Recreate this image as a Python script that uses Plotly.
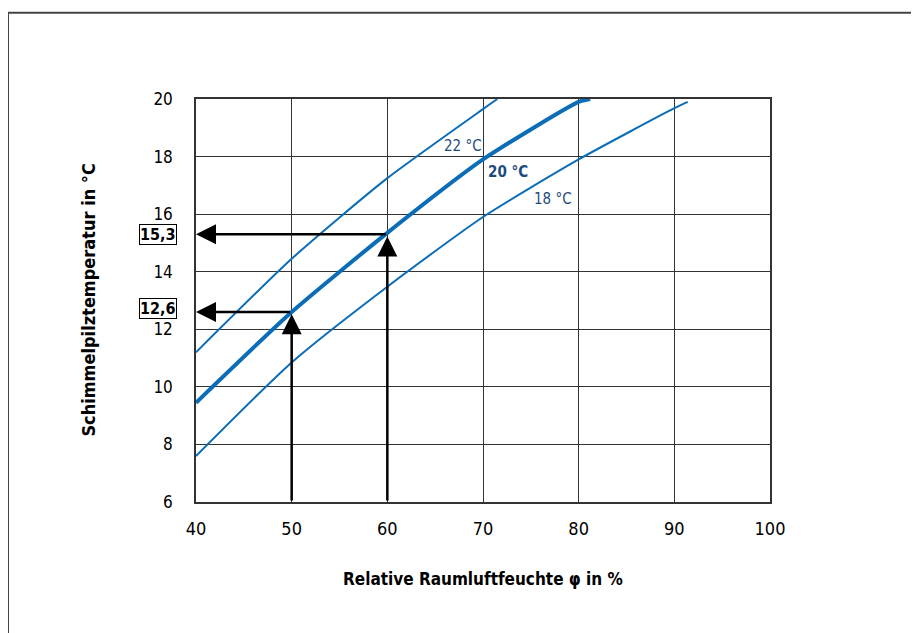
import plotly.graph_objects as go

# ---- data ----
rh_22 = [40, 50, 60, 70, 71.5]
t_22 = [11.2, 14.45, 17.25, 19.65, 20.0]

rh_20 = [40, 50, 60, 70, 80, 81.2]
t_20 = [9.45, 12.6, 15.35, 17.9, 19.9, 20.0]

rh_18 = [40, 50, 60, 70, 80, 90, 91.4]
t_18 = [7.6, 10.85, 13.48, 15.9, 17.9, 19.68, 19.9]

curve_labels = ["22 °C", "20 °C", "18 °C"]
label_rh = [67.9, 72.6, 77.3]
label_t = [18.37, 17.47, 16.53]

marked_rh = [50, 60]
marked_t = [12.6, 15.3]
marked_text = ["12,6", "15,3"]

x_ticks = [40, 50, 60, 70, 80, 90, 100]
y_ticks = [6, 8, 10, 12, 14, 16, 18, 20]

FONT = "DejaVu Sans Condensed, Liberation Sans Narrow, Arial Narrow, sans-serif"
LINE = "#0b6db7"
TXT = "#1d4a7c"

fig = go.Figure()
fig.add_trace(go.Scatter(x=rh_22, y=t_22, mode="lines", line=dict(color=LINE, width=2, shape="spline", smoothing=0.6), hoverinfo="skip"))
fig.add_trace(go.Scatter(x=rh_20, y=t_20, mode="lines", line=dict(color=LINE, width=4, shape="spline", smoothing=0.6), hoverinfo="skip"))
fig.add_trace(go.Scatter(x=rh_18, y=t_18, mode="lines", line=dict(color=LINE, width=2, shape="spline", smoothing=0.6), hoverinfo="skip"))

ann = []
for i, (txt, x, y) in enumerate(zip(curve_labels, label_rh, label_t)):
    ann.append(dict(x=x, y=y, xref="x", yref="y", text=("<b>%s</b>" % txt) if i == 1 else txt,
                    showarrow=False, font=dict(family=FONT, size=15, color=TXT)))

ymin = y_ticks[0]
xmin = x_ticks[0]
box_yshift = [4, 0]
for rh, t, txt, ys in zip(marked_rh, marked_t, marked_text, box_yshift):
    # vertical arrow
    ann.append(dict(x=rh, y=t - 0.08, ax=rh, ay=ymin, xref="x", yref="y", axref="x", ayref="y",
                    text="", showarrow=True, arrowhead=2, arrowsize=1.6, arrowwidth=2.5,
                    arrowcolor="black"))
    # horizontal arrow
    ann.append(dict(x=xmin, y=t, ax=rh, ay=t, xref="x", yref="y", axref="x", ayref="y",
                    text="", showarrow=True, arrowhead=2, arrowsize=1.6, arrowwidth=2.5,
                    arrowcolor="black"))
    # boxed value label
    ann.append(dict(x=xmin, y=t, xref="x", yref="y", text="<b>%s</b>" % txt, showarrow=False,
                    xanchor="right", xshift=-19, yshift=ys, font=dict(family=FONT, size=16, color="black"),
                    bordercolor="black", borderwidth=1, borderpad=0, bgcolor="white"))

ann.append(dict(x=0.5, y=-0.19, xref="paper", yref="paper", text="<b>Relative Raumluftfeuchte φ in %</b>",
                showarrow=False, xanchor="center", yanchor="middle",
                font=dict(family=FONT, size=17, color="black")))
ann.append(dict(x=-0.188, y=0.5, xref="paper", yref="paper", text="<b>Schimmelpilztemperatur in °C</b>",
                showarrow=False, textangle=-90, xanchor="center", yanchor="middle",
                font=dict(family=FONT, size=18, color="black")))

shapes = [
    dict(type="line", xref="paper", yref="paper", x0=-0.3275, x1=-0.3275, y0=1.214, y1=-0.4,
         line=dict(color="#444", width=2)),
    dict(type="line", xref="paper", yref="paper", x0=-0.3275, x1=1.3, y0=1.214, y1=1.214,
         line=dict(color="#444", width=2)),
]

fig.update_layout(
    width=911, height=625,
    margin=dict(l=188, r=149, t=91, b=131),
    paper_bgcolor="white", plot_bgcolor="white",
    showlegend=False,
    annotations=ann, shapes=shapes,
    font=dict(family=FONT, size=18, color="black"),
)
fig.update_xaxes(range=[40, 100], tickvals=x_ticks, showgrid=True, gridcolor="#333", gridwidth=1.3,
                 showline=True, linecolor="#333", linewidth=1.5, mirror=True, zeroline=False,
                 ticks="", ticklabelstandoff=10, tickfont=dict(family=FONT, size=18))
fig.update_yaxes(range=[6, 20], tickvals=y_ticks, showgrid=True, gridcolor="#333", gridwidth=1.3,
                 showline=True, linecolor="#333", linewidth=1.5, mirror=True, zeroline=False,
                 ticks="", ticklabelstandoff=18, tickfont=dict(family=FONT, size=17))

fig.write_html("out.html")
